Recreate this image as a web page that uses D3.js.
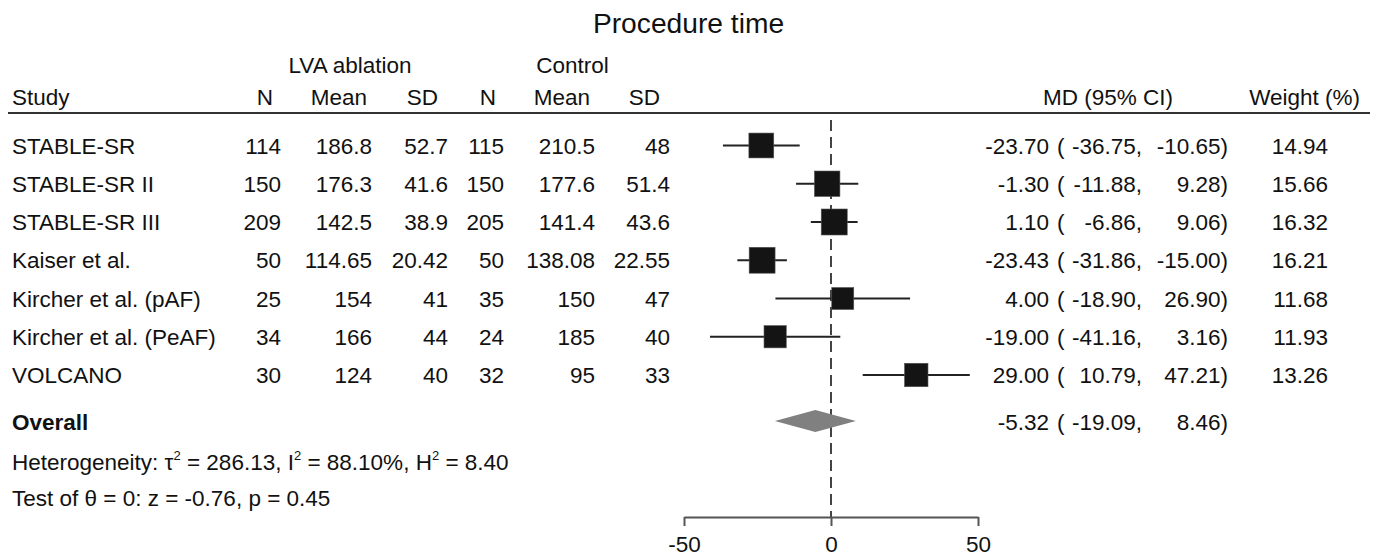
<!DOCTYPE html>
<html>
<head>
<meta charset="utf-8">
<script src="https://cdn.jsdelivr.net/npm/d3@7"></script>
<style>
  body { margin: 0; background: #fff; }
  text { font-family: "Liberation Sans", Arial, sans-serif; fill: #111; }
</style>
</head>
<body>
<div id="forest"></div>
<script>
// study table
const studies = ["STABLE-SR", "STABLE-SR II", "STABLE-SR III", "Kaiser et al.", "Kircher et al. (pAF)", "Kircher et al. (PeAF)", "VOLCANO"];
const lvaN = [114, 150, 209, 50, 25, 34, 30];
const lvaMean = ["186.8", "176.3", "142.5", "114.65", "154", "166", "124"];
const lvaSD = ["52.7", "41.6", "38.9", "20.42", "41", "44", "40"];
const ctrlN = [115, 150, 205, 50, 35, 24, 32];
const ctrlMean = ["210.5", "177.6", "141.4", "138.08", "150", "185", "95"];
const ctrlSD = ["48", "51.4", "43.6", "22.55", "47", "40", "33"];
const md = [-23.70, -1.30, 1.10, -23.43, 4.00, -19.00, 29.00];
const ciLow = [-36.75, -11.88, -6.86, -31.86, -18.90, -41.16, 10.79];
const ciHigh = [-10.65, 9.28, 9.06, -15.00, 26.90, 3.16, 47.21];
const weight = [14.94, 15.66, 16.32, 16.21, 11.68, 11.93, 13.26];
const overall = {md: -5.32, lo: -19.09, hi: 8.46};
const xTicks = [-50, 0, 50];

const W = 1381, H = 559;
const fs = 22.5;
const svg = d3.select("#forest").append("svg")
    .attr("width", W).attr("height", H);

const x = d3.scaleLinear().domain([-50, 50]).range([684, 978]);
const y = d3.scaleLinear().domain([0, studies.length - 1]).range([145.5, 375]);
const size = d3.scaleSqrt().domain([0, d3.max(weight)]).range([0, 26]);
const overallY = 421;
const fmt = v => v.toFixed(2);

// title
svg.append("text").attr("x", 688.5).attr("y", 33)
    .attr("text-anchor", "middle").attr("font-size", 28.2)
    .text("Procedure time");

// group headers
svg.append("text").attr("x", 350).attr("y", 73).attr("text-anchor", "middle")
    .attr("font-size", fs).text("LVA ablation");
svg.append("text").attr("x", 572.5).attr("y", 73).attr("text-anchor", "middle")
    .attr("font-size", fs).text("Control");

// column headers (right edges)
const heads = [["Study", 12, "start"], ["N", 273, "end"], ["Mean", 367, "end"], ["SD", 438, "end"],
    ["N", 496, "end"], ["Mean", 590, "end"], ["SD", 660, "end"],
    ["MD (95% CI)", 1173, "end"], ["Weight (%)", 1360, "end"]];
svg.selectAll(".head").data(heads).join("text")
    .attr("x", d => d[1]).attr("y", 105).attr("text-anchor", d => d[2])
    .attr("font-size", fs).text(d => d[0]);

svg.append("line").attr("x1", 8).attr("x2", 1370).attr("y1", 113).attr("y2", 113)
    .attr("stroke", "#333").attr("stroke-width", 2);

// reference line at 0
svg.append("line").attr("x1", x(0)).attr("x2", x(0)).attr("y1", 120).attr("y2", 517)
    .attr("stroke", "#444").attr("stroke-width", 2).attr("stroke-dasharray", "11,6");

// table columns
const cols = [[studies, 12, "start"], [lvaN, 281, "end"], [lvaMean, 372, "end"], [lvaSD, 448, "end"],
    [ctrlN, 504, "end"], [ctrlMean, 595, "end"], [ctrlSD, 670, "end"]];
cols.forEach(([vals, cx, anchor]) => {
    svg.append("g").selectAll("text").data(vals).join("text")
        .attr("x", cx).attr("y", (d, i) => y(i) + 8)
        .attr("text-anchor", anchor).attr("font-size", fs)
        .text(d => d);
});

// MD (95% CI) and weight
function ciText(g, yy, m, lo, hi) {
    g.append("text").attr("x", 1049).attr("y", yy).attr("text-anchor", "end").attr("font-size", fs).text(fmt(m));
    g.append("text").attr("x", 1057).attr("y", yy).attr("font-size", fs).text("(");
    g.append("text").attr("x", 1142).attr("y", yy).attr("text-anchor", "end").attr("font-size", fs).text(fmt(lo) + ",");
    g.append("text").attr("x", 1228).attr("y", yy).attr("text-anchor", "end").attr("font-size", fs).text(fmt(hi) + ")");
}
const ciG = svg.append("g");
studies.forEach((s, i) => {
    ciText(ciG, y(i) + 8, md[i], ciLow[i], ciHigh[i]);
    ciG.append("text").attr("x", 1328).attr("y", y(i) + 8).attr("text-anchor", "end")
        .attr("font-size", fs).text(fmt(weight[i]));
});
ciText(ciG, overallY + 9, overall.md, overall.lo, overall.hi);

// confidence intervals and squares
const marks = svg.append("g");
marks.selectAll("line").data(studies).join("line")
    .attr("x1", (d, i) => x(ciLow[i])).attr("x2", (d, i) => x(ciHigh[i]))
    .attr("y1", (d, i) => y(i)).attr("y2", (d, i) => y(i))
    .attr("stroke", "#222").attr("stroke-width", 1.8);
marks.selectAll("rect").data(studies).join("rect")
    .attr("x", (d, i) => x(md[i]) - size(weight[i]) / 2)
    .attr("y", (d, i) => y(i) - size(weight[i]) / 2)
    .attr("width", (d, i) => size(weight[i]))
    .attr("height", (d, i) => size(weight[i]))
    .attr("fill", "#141414").attr("stroke", "#555").attr("stroke-width", 0.6);

// overall diamond
svg.append("path")
    .attr("d", `M${x(overall.lo)},${overallY}L${x(overall.md)},${overallY - 11}L${x(overall.hi)},${overallY}L${x(overall.md)},${overallY + 11}Z`)
    .attr("fill", "#808080");

svg.append("text").attr("x", 12).attr("y", overallY + 9).attr("font-size", fs)
    .attr("font-weight", "bold").text("Overall");

// heterogeneity line with superscripts
const het = svg.append("text").attr("x", 12).attr("y", 470).attr("font-size", fs);
const parts = [["Heterogeneity: τ", false], ["2", true], [" = 286.13, I", false], ["2", true],
    [" = 88.10%, H", false], ["2", true], [" = 8.40", false]];
let shift = 0;
parts.forEach(([t, sup]) => {
    const dy = sup ? -10 : shift;
    shift = sup ? 10 : 0;
    het.append("tspan").attr("dy", dy).attr("font-size", sup ? 13 : fs).text(t);
});
svg.append("text").attr("x", 12).attr("y", 506).attr("font-size", fs)
    .text("Test of θ = 0: z = -0.76, p = 0.45");

// x axis
const axis = svg.append("g").attr("transform", "translate(0,517)")
    .call(d3.axisBottom(x).tickValues(xTicks).tickSize(9).tickSizeOuter(0).tickFormat(d => String(d)));
axis.select(".domain").attr("stroke", "#555").attr("stroke-width", 2);
axis.selectAll(".tick line").attr("stroke", "#555").attr("stroke-width", 2);
axis.selectAll(".tick text").attr("font-size", fs).attr("font-family", "Liberation Sans, Arial, sans-serif")
    .attr("fill", "#111").attr("dy", 0).attr("y", 35);
</script>
</body>
</html>
